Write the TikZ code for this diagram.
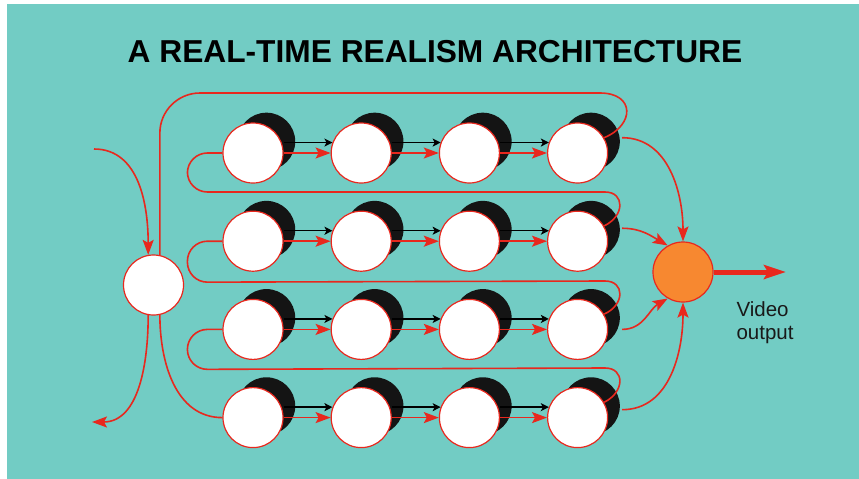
\documentclass[tikz,border=0pt]{standalone}
\usepackage{fontspec}
\setmainfont{Liberation Sans}
\usetikzlibrary{arrows.meta, positioning, shadows}

\definecolor{bgteal}{RGB}{114,204,196}
\definecolor{linered}{RGB}{232,40,30}
\definecolor{outorange}{RGB}{247,136,48}

\begin{document}
\begin{tikzpicture}[
    x=1pt, y=1pt,
    node distance=27pt and 47pt,
    cell/.style={circle, draw=linered, line width=1.2pt, fill=white,
                 inner sep=0pt, minimum size=60pt,
                 drop shadow={shadow xshift=14pt, shadow yshift=12pt,
                              shadow scale=0.96, opacity=1, fill=black!92}},
    hub/.style={circle, draw=linered, line width=1.2pt, fill=white,
                inner sep=0pt, minimum size=60pt},
    rl/.style={draw=linered, line width=1.6pt},
    ra/.style={rl, -{Stealth[length=15pt, width=11pt, inset=3pt]}},
    ba/.style={draw=black, line width=1.5pt, -{Stealth[length=8pt, width=8pt, inset=2pt]}},
]
\useasboundingbox (0,0) rectangle (859,-479);
\fill[white] (0,0) rectangle (859,-479);
\fill[bgteal] (7,-4) rectangle (859,-479);

\node[font=\bfseries\fontsize{31.7}{36}\selectfont] (title) at (435,-51.5)
     {A REAL-TIME REALISM ARCHITECTURE};

% processor array, row by row
\node[cell] (c11) at (253,-153) {};
\node[cell, right=of c11] (c12) {};
\node[cell, right=of c12] (c13) {};
\node[cell, right=of c13] (c14) {};
\node[cell, below=of c11] (c21) {};
\node[cell, right=of c21] (c22) {};
\node[cell, right=of c22] (c23) {};
\node[cell, right=of c23] (c24) {};
\node[cell, below=of c21] (c31) {};
\node[cell, right=of c31] (c32) {};
\node[cell, right=of c32] (c33) {};
\node[cell, right=of c33] (c34) {};
\node[cell, below=of c31] (c41) {};
\node[cell, right=of c41] (c42) {};
\node[cell, right=of c42] (c43) {};
\node[cell, right=of c43] (c44) {};

\node[hub] (lc) at (153.5,-285) {};
\node[hub, fill=outorange] (vo) at (683,-272) {};
\node[align=left, font=\fontsize{20.5}{23}\selectfont, text=black!90]
     (vid) at (765,-323) {Video\\output};
\coordinate (src) at (94,-149);
\coordinate (sink) at (92,-422);
\coordinate (scr) at (786,-272);

\foreach \r in {1,2,3,4} {
  \foreach \a/\b in {1/2,2/3,3/4} {
    \draw[ba] (c\r\a.east |- c\r\b.160) -- (c\r\b.160);
    \draw[ra] (c\r\a) -- (c\r\b);
  }
}

% ring: hub -> bottom row -> ... -> top row -> hub
\draw[rl] (lc.-78) to[out=-90, in=180] (c41.west);
\draw[rl] (c31.west) [rounded corners=20pt] -- ++(-35,0) -- ++(0,-40)
          [sharp corners] -- (605,-368)
          .. controls (625,-368) and (625,-392) .. (c44.30);
\draw[rl] (c21.west) [rounded corners=20pt] -- ++(-35,0) -- ++(0,-41)
          [sharp corners] -- (605,-281)
          .. controls (625,-281) and (625,-305) .. (c34.30);
\draw[rl] (c11.west) [rounded corners=20pt] -- ++(-35,0) -- ++(0,-39)
          [sharp corners] -- (605,-192)
          .. controls (625,-192) and (625,-216) .. (c24.30);
\draw[rl] (lc.78) -- (lc.78 |- 0,-133) to[out=90, in=180] (200,-93)
          -- (600,-93) .. controls (635,-93) and (635,-125) .. (c14.30);

% input and output of the hub
\draw[ra] (src) to[out=0, in=90] (lc.100);
\draw[ra] (lc.260) to[out=-90, in=0] (sink);

% column four feeds the video processor
\draw[ra] ([xshift=14pt]c14.east |- c14.30) to[out=0, in=90] (vo.north);
\draw[ra] ([xshift=14pt]c24.east |- c24.25) to[out=0, in=150] (vo.120);
\draw[ra] ([xshift=14pt]c34.east) to[out=0, in=210] (vo.240);
\draw[ra] ([xshift=14pt]c44.east |- c44.15) to[out=0, in=-90] (vo.south);
\draw[linered, line width=5pt, -{Stealth[length=22pt, width=14pt, inset=4pt]}]
     (vo.east) -- (scr);
\end{tikzpicture}
\end{document}
